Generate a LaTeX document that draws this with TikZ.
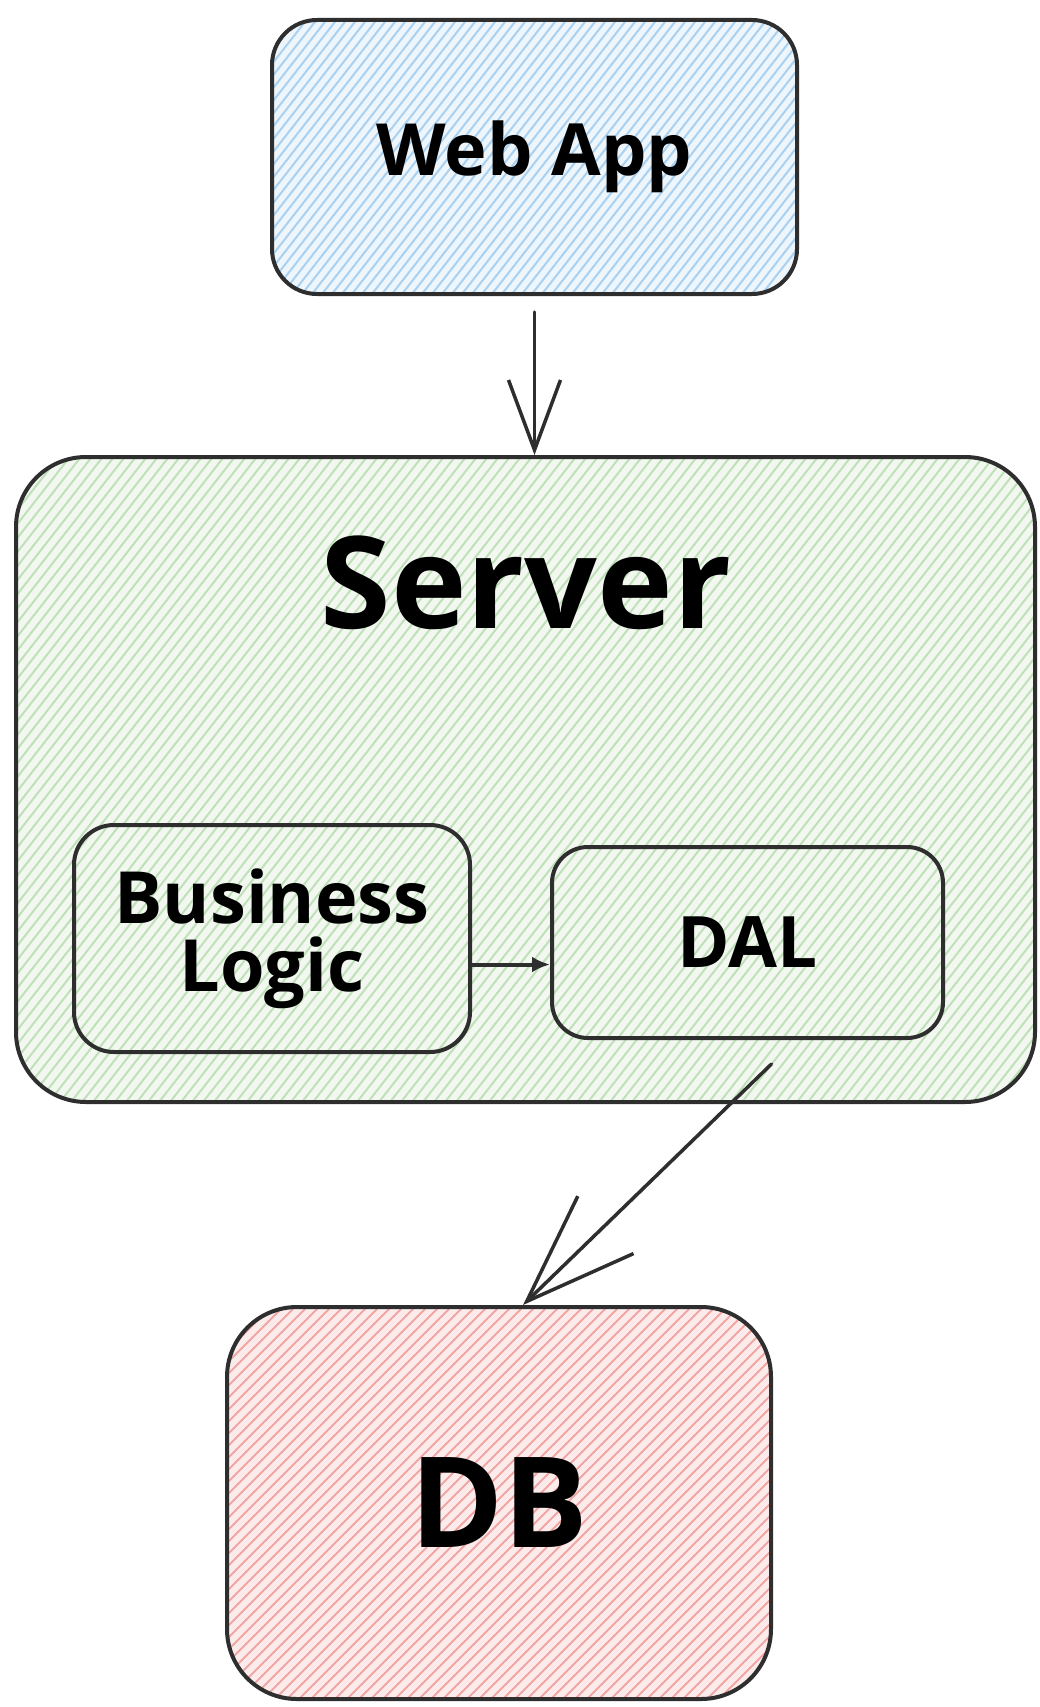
\documentclass[tikz,border=0pt]{standalone}
\usepackage{fontspec}
\setmainfont{Open Sans}
\usetikzlibrary{arrows.meta}

\definecolor{inkline}{HTML}{2E2E2E}
\definecolor{webfill}{HTML}{EEF6FC}
\definecolor{webhatch}{HTML}{A9D1F1}
\definecolor{srvfill}{HTML}{F2F8F0}
\definecolor{srvhatch}{HTML}{C0E0BA}
\definecolor{dbfill}{HTML}{FCEBEB}
\definecolor{dbhatch}{HTML}{F1A6A6}

\tikzset{
  % diagonal hand-drawn style fill lines, clipped to the node outline
  hatched/.style n args={4}{
    path picture={
      \foreach \k in {-80,...,130}{
        \draw[#1, line width=2pt]
          ([xshift=\k*#2]path picture bounding box.south west) -- ++(#3,#4);
      }
    }
  },
  box/.style={draw=inkline, line width=4pt, inner sep=0pt, align=center,
    font=\bfseries},
  webbox/.style={box, fill=webfill, hatched={webhatch}{10pt}{900pt}{1150pt},
    rounded corners=45pt},
  srvbox/.style={box, fill=srvfill, hatched={srvhatch}{11pt}{900pt}{1150pt}},
  dbbox/.style={box, fill=dbfill, hatched={dbhatch}{12pt}{1000pt}{1000pt},
    rounded corners=70pt},
  bigarrow/.style={draw=inkline, line width=3.5pt, line cap=round},
}

\begin{document}
\begin{tikzpicture}[x=1pt, y=-1pt]
  \useasboundingbox[fill=white] (0,0) rectangle (1039,1707);

  % web application
  \node[webbox, minimum width=525pt, minimum height=274pt,
        font=\bfseries\fontsize{72}{75}\selectfont]
    (webapp) at (534.5,157) {Web App};

  % server container with its two layers
  \node[srvbox, rounded corners=70pt, minimum width=1019pt, minimum height=645pt]
    (server) at (525.5,779.5) {};
  \node[font=\bfseries\fontsize{128}{130}\selectfont, inner sep=0pt]
    (servertitle) at (526,583) {Server};

  \node[srvbox, rounded corners=40pt, minimum width=396pt, minimum height=227pt,
        font=\bfseries\fontsize{72}{68}\selectfont]
    (logic) at (272,938.5) {Business\\Logic};
  \node[srvbox, rounded corners=36pt, minimum width=391pt, minimum height=191pt,
        font=\bfseries\fontsize{71}{72}\selectfont]
    (dal) at (747.5,942.5) {DAL};

  % database
  \node[dbbox, minimum width=544pt, minimum height=392pt,
        font=\bfseries\fontsize{126}{128}\selectfont]
    (db) at (499,1503) {DB};

  % connectors
  \draw[bigarrow, -{Straight Barb[length=70pt, width=52pt, line width=3.5pt]}]
    ([yshift=-16pt]webapp.south) -- (webapp.south |- server.north);

  \draw[draw=inkline, line width=4pt,
        -{Latex[length=18pt, width=16pt]}]
    ([yshift=-26pt]logic.east) -- ([yshift=-26pt]logic.east -| dal.west);

  \draw[bigarrow, -{Straight Barb[length=110pt, width=80pt, line width=3.5pt]}]
    ([xshift=24pt, yshift=-24pt]dal.south) -- ([xshift=24pt]db.north);
\end{tikzpicture}
\end{document}
